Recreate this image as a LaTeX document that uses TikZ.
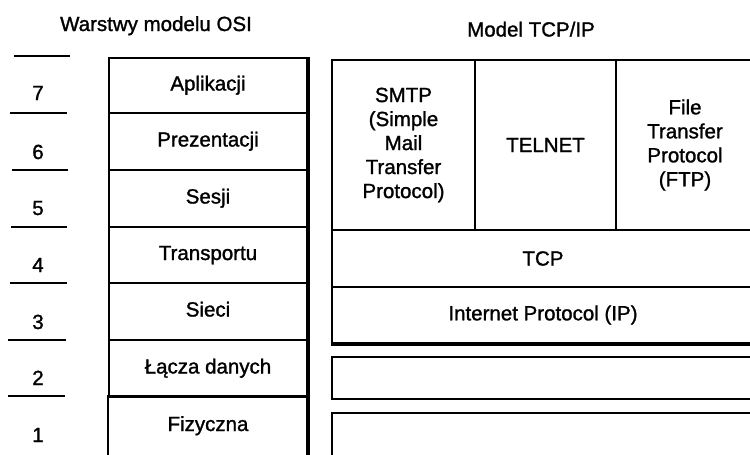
\documentclass[tikz,border=0pt]{standalone}
\usepackage{fontspec}
\setmainfont[FakeBold=1.3]{Liberation Sans}
\begin{document}
\begin{tikzpicture}[x=1pt, y=-1pt, line width=1.8pt,
  every node/.style={font=\fontsize{20.5}{24}\selectfont, inner sep=0pt},
  layer/.style={draw, rectangle, minimum width=198pt, text height=15pt, text depth=5pt},
  proto/.style={draw, rectangle, align=center},
  num/.style={text height=14pt, text depth=0pt},
  title/.style={text height=15pt, text depth=0pt}]
\useasboundingbox (0,0) rectangle (750,455);

% headings
\node[title] (hosi) at (156,23.5) {Warstwy modelu OSI};
\node[title] (htcp) at (531,29) {Model TCP/IP};

% layer numbers and separating rules
\foreach \n/\y in {7/93,6/152,5/208,4/265,3/322,2/378,1/435}
  \node[num] (n\n) at (38,\y) {\n};
\draw (14,56) -- (70,56);
\draw (10,113) -- (67,113);
\draw (12,170) -- (68,170);
\draw (11,227) -- (67,227);
\draw (10,283) -- (67,283);
\draw (8,340) -- (66,340);
\draw (8,396) -- (65,396);

% OSI stack
\node[layer, minimum height=55pt] (osi7) at (208,85.5) {Aplikacji};
\node[layer, minimum height=57pt] (osi6) at (208,141.5) {Prezentacji};
\node[layer, minimum height=57pt] (osi5) at (208,198.5) {Sesji};
\node[layer, minimum height=56pt] (osi4) at (208,255) {Transportu};
\node[layer, minimum height=57pt] (osi3) at (208,311.5) {Sieci};
\node[layer, minimum height=57pt] (osi2) at (208,368.5) {Łącza danych};
\node[layer, draw=none, minimum height=58pt] (osi1) at (208,426) {Fizyczna};
\coordinate (osiBL) at ([yshift=-10pt]osi1.south west);
\coordinate (osiBR) at ([yshift=-10pt]osi1.south east);
\draw (osiBL) -- (osi1.north west) -- (osi1.north east) -- (osiBR);
\draw[line width=4pt] (osi7.north east) -- (osiBR);

% TCP/IP stack
\node[proto, minimum width=143pt, minimum height=170pt] (smtp) at (403.5,145)
  {SMTP\\(Simple\\Mail\\Transfer\\Protocol)};
\node[proto, minimum width=141pt, minimum height=170pt] (telnet) at (545.5,145) {TELNET};
\node[proto, minimum width=138pt, minimum height=170pt] (ftp) at (685,145)
  {File\\Transfer\\Protocol\\(FTP)};
\node[proto, minimum width=422pt, minimum height=57pt] (tcp) at (543,258.5) {TCP};
\node[proto, minimum width=422pt, minimum height=56pt] (ip) at (543,315) {Internet Protocol (IP)};
\draw[line width=4pt] (ip.south west) -- (ip.south east);
\node[proto, minimum width=422pt, minimum height=42pt] (link) at (543,378) {};
\node[proto, minimum width=422pt, minimum height=57pt] (phys) at (543,441.5) {};
\end{tikzpicture}
\end{document}
